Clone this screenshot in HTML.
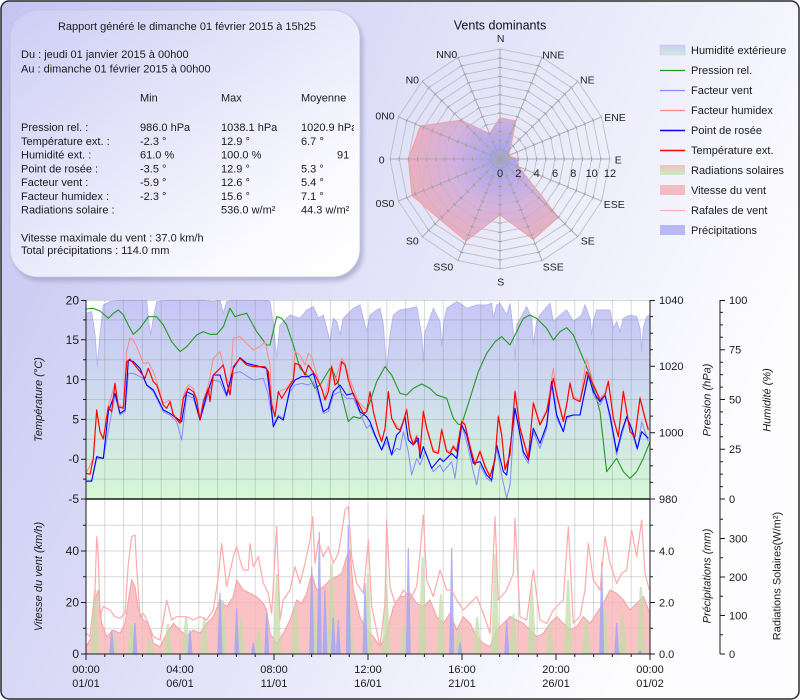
<!DOCTYPE html>
<html><head><meta charset="utf-8"><style>
html,body{margin:0;padding:0;width:800px;height:700px;overflow:hidden;background:#fff}
svg{display:block;font-family:"Liberation Sans",Arial,sans-serif}
</style></head><body>
<svg width="800" height="700" viewBox="0 0 800 700" xmlns="http://www.w3.org/2000/svg" xmlns:xlink="http://www.w3.org/1999/xlink">
<defs>
<linearGradient id="bg" x1="0" y1="0" x2="1" y2="0.4">
<stop offset="0" stop-color="#c4c4f2"/><stop offset="1" stop-color="#fdfdff"/>
</linearGradient>
<linearGradient id="box" x1="0" y1="0" x2="1" y2="1">
<stop offset="0" stop-color="#cdcdf5"/><stop offset="0.8" stop-color="#fbfbff"/><stop offset="1" stop-color="#ffffff"/>
</linearGradient>
<filter id="sh" x="-10%" y="-10%" width="130%" height="130%"><feGaussianBlur stdDeviation="2.5"/></filter>
<radialGradient id="rose" gradientUnits="userSpaceOnUse" cx="500" cy="159" r="105">
<stop offset="0" stop-color="#9494f4"/><stop offset="0.45" stop-color="#d2a8dc"/><stop offset="1" stop-color="#f6a2a8"/>
</radialGradient>
<linearGradient id="hum" x1="0" y1="0" x2="0" y2="1">
<stop offset="0" stop-color="#c6c6f6"/><stop offset="0.5" stop-color="#cfdcee"/><stop offset="1" stop-color="#d6f8d6"/>
</linearGradient>
<linearGradient id="lgh" x1="0" y1="0" x2="0" y2="1">
<stop offset="0" stop-color="#c8c8f4"/><stop offset="1" stop-color="#cfeedc"/>
</linearGradient>
<linearGradient id="lgr" x1="0" y1="0" x2="0" y2="1">
<stop offset="0" stop-color="#f4c0c0"/><stop offset="1" stop-color="#c8ecc0"/>
</linearGradient>
<polygon id="ring" fill="none" points="0,-110 42.1,-101.6 77.8,-77.8 101.6,-42.1 110,0 101.6,42.1 77.8,77.8 42.1,101.6 0,110 -42.1,101.6 -77.8,77.8 -101.6,42.1 -110,0 -101.6,-42.1 -77.8,-77.8 -42.1,-101.6"/>
<g id="sp">
<line x1="500" y1="159" x2="500" y2="49" stroke="#a8a8a8" stroke-width="1"/>
<line x1="500" y1="159" x2="500" y2="49" stroke="#a0a0a0" stroke-width="4" stroke-dasharray="1 8.167" stroke-dashoffset="0.5"/>
</g>
<clipPath id="c1"><rect x="86" y="300" width="564" height="199"/></clipPath>
<clipPath id="c2"><rect x="86" y="499" width="564" height="155"/></clipPath>
<clipPath id="cbox"><rect x="10" y="10" width="344" height="270"/></clipPath>
</defs>

<!-- background -->
<rect x="1" y="1" width="798" height="698" rx="8" ry="8" fill="url(#bg)" stroke="#2a2a2a" stroke-width="1.5"/>

<!-- info box -->
<rect x="13" y="14" width="350" height="267" rx="28" ry="28" fill="#8c8cb4" opacity="0.55" filter="url(#sh)"/>
<rect x="10" y="10" width="350" height="267" rx="28" ry="28" fill="url(#box)" stroke="#c4c4e0" stroke-width="0.8"/>
<g font-size="11" fill="#1a1a1a" clip-path="url(#cbox)">
<text x="187" y="30" text-anchor="middle">Rapport généré le dimanche 01 février 2015 à 15h25</text>
<text x="21" y="58">Du : jeudi 01 janvier 2015 à 00h00</text>
<text x="21" y="72.5">Au : dimanche 01 février 2015 à 00h00</text>
<text x="140" y="101.5">Min</text><text x="221" y="101.5">Max</text><text x="301" y="101.5">Moyenne</text>
<text x="21" y="131">Pression rel. :</text><text x="140" y="131">986.0 hPa</text><text x="221" y="131">1038.1 hPa</text><text x="301" y="131">1020.9 hPa</text>
<text x="21" y="144.75">Température ext. :</text><text x="140" y="144.75">-2.3 °</text><text x="221" y="144.75">12.9 °</text><text x="301" y="144.75">6.7 °</text>
<text x="21" y="158.5">Humidité ext. :</text><text x="140" y="158.5">61.0 %</text><text x="221" y="158.5">100.0 %</text><text x="337" y="158.5">91</text>
<text x="21" y="172.25">Point de rosée :</text><text x="140" y="172.25">-3.5 °</text><text x="221" y="172.25">12.9 °</text><text x="301" y="172.25">5.3 °</text>
<text x="21" y="186">Facteur vent :</text><text x="140" y="186">-5.9 °</text><text x="221" y="186">12.6 °</text><text x="301" y="186">5.4 °</text>
<text x="21" y="199.75">Facteur humidex :</text><text x="140" y="199.75">-2.3 °</text><text x="221" y="199.75">15.6 °</text><text x="301" y="199.75">7.1 °</text>
<text x="21" y="213.5">Radiations solaire :</text><text x="221" y="213.5">536.0 w/m²</text><text x="301" y="213.5">44.3 w/m²</text>
<text x="21" y="241.5">Vitesse maximale du vent : 37.0 km/h</text>
<text x="21" y="254">Total précipitations : 114.0 mm</text>
</g>

<!-- wind rose -->
<text x="500" y="29.5" text-anchor="middle" font-size="12.5" fill="#111">Vents dominants</text>
<polygon points="500,117.75 515.8,120.9 510.4,148.6 508.5,155.5 517.4,159 518.6,166.7 558.3,217.3 533.3,239.5 500,214.9 466,241.1 439.7,219.3 412,195.5 408.3,159 420.4,126 461.1,120.1 489.5,133.6" fill="url(#rose)" fill-opacity="0.85" stroke="#f4a0a0" stroke-width="1"/>
<g stroke="#bcbcbc" opacity="0.85">
<use xlink:href="#ring" transform="translate(500,159) scale(0.08333)" stroke-width="12"/>
<use xlink:href="#ring" transform="translate(500,159) scale(0.16667)" stroke-width="6"/>
<use xlink:href="#ring" transform="translate(500,159) scale(0.25)" stroke-width="4"/>
<use xlink:href="#ring" transform="translate(500,159) scale(0.33333)" stroke-width="3"/>
<use xlink:href="#ring" transform="translate(500,159) scale(0.41667)" stroke-width="2.4"/>
<use xlink:href="#ring" transform="translate(500,159) scale(0.5)" stroke-width="2"/>
<use xlink:href="#ring" transform="translate(500,159) scale(0.58333)" stroke-width="1.714"/>
<use xlink:href="#ring" transform="translate(500,159) scale(0.66667)" stroke-width="1.5"/>
<use xlink:href="#ring" transform="translate(500,159) scale(0.75)" stroke-width="1.333"/>
<use xlink:href="#ring" transform="translate(500,159) scale(0.83333)" stroke-width="1.2"/>
<use xlink:href="#ring" transform="translate(500,159) scale(0.91667)" stroke-width="1.091"/>
<use xlink:href="#ring" transform="translate(500,159)" stroke-width="1"/>
</g>
<g opacity="0.9">
<use xlink:href="#sp"/>
<use xlink:href="#sp" transform="rotate(22.5 500 159)"/>
<use xlink:href="#sp" transform="rotate(45 500 159)"/>
<use xlink:href="#sp" transform="rotate(67.5 500 159)"/>
<use xlink:href="#sp" transform="rotate(90 500 159)"/>
<use xlink:href="#sp" transform="rotate(112.5 500 159)"/>
<use xlink:href="#sp" transform="rotate(135 500 159)"/>
<use xlink:href="#sp" transform="rotate(157.5 500 159)"/>
<use xlink:href="#sp" transform="rotate(180 500 159)"/>
<use xlink:href="#sp" transform="rotate(202.5 500 159)"/>
<use xlink:href="#sp" transform="rotate(225 500 159)"/>
<use xlink:href="#sp" transform="rotate(247.5 500 159)"/>
<use xlink:href="#sp" transform="rotate(270 500 159)"/>
<use xlink:href="#sp" transform="rotate(292.5 500 159)"/>
<use xlink:href="#sp" transform="rotate(315 500 159)"/>
<use xlink:href="#sp" transform="rotate(337.5 500 159)"/>
</g>
<g font-size="11" fill="#222" text-anchor="middle">
<text x="500" y="177">0</text><text x="518.3" y="177">2</text><text x="536.7" y="177">4</text><text x="555" y="177">6</text><text x="573.3" y="177">8</text><text x="591.7" y="177">10</text><text x="610" y="177">12</text>
</g>
<g font-size="10.5" fill="#222" text-anchor="middle">
<text x="500.7" y="42">N</text>
<text x="553.3" y="58.7">NNE</text>
<text x="587.3" y="83.7">NE</text>
<text x="615" y="121">ENE</text>
<text x="618.3" y="163.7">E</text>
<text x="614.3" y="208">ESE</text>
<text x="587.7" y="244.7">SE</text>
<text x="553.3" y="270.4">SSE</text>
<text x="500.7" y="285.4">S</text>
<text x="443.3" y="270.4">SS0</text>
<text x="412.3" y="244.7">S0</text>
<text x="385" y="207">0S0</text>
<text x="381.7" y="163.7">0</text>
<text x="385" y="119.7">0N0</text>
<text x="412.3" y="83.7">N0</text>
<text x="446.7" y="58">NN0</text>
</g>

<!-- legend -->
<g font-size="11" fill="#1a1a1a">
<rect x="660" y="45" width="25" height="10" fill="url(#lgh)" stroke="#c8d0ee" stroke-width="0.6"/>
<text x="691" y="54">Humidité extérieure</text>
<line x1="660" y1="70.5" x2="685" y2="70.5" stroke="#1f9a1f" stroke-width="1.3"/>
<text x="691" y="74">Pression rel.</text>
<line x1="660" y1="90.5" x2="685" y2="90.5" stroke="#8888ff" stroke-width="1.2"/>
<text x="691" y="94">Facteur vent</text>
<line x1="660" y1="110.5" x2="685" y2="110.5" stroke="#ff8888" stroke-width="1.2"/>
<text x="691" y="114">Facteur humidex</text>
<line x1="660" y1="130.5" x2="685" y2="130.5" stroke="#0000ff" stroke-width="1.4"/>
<text x="691" y="134">Point de rosée</text>
<line x1="660" y1="150.5" x2="685" y2="150.5" stroke="#ff0000" stroke-width="1.4"/>
<text x="691" y="154">Température ext.</text>
<rect x="660" y="165" width="25" height="10" fill="url(#lgr)"/>
<text x="691" y="174">Radiations solaires</text>
<rect x="660" y="185" width="25" height="10" fill="#f4bcc0"/>
<text x="691" y="194">Vitesse du vent</text>
<line x1="660" y1="210.5" x2="685" y2="210.5" stroke="#ffb0b0" stroke-width="1.2"/>
<text x="691" y="214">Rafales de vent</text>
<rect x="660" y="225" width="25" height="10" fill="#b8b8f8"/>
<text x="691" y="234">Précipitations</text>
</g>

<!-- plot backgrounds -->
<rect x="86" y="300" width="564" height="354" fill="#ffffff"/>

<!-- upper chart series -->
<g clip-path="url(#c1)">
<g transform="translate(0,285) scale(0.333333)">
<polygon points="258,642 258,85 275,80 285,150 292,245 300,150 310,60 330,50 370,45 440,45 445,100 452,150 460,100 470,50 520,45 600,45 640,50 660,45 670,85 680,50 700,45 800,45 810,50 820,120 830,220 840,120 870,90 900,100 920,75 940,65 955,100 970,90 990,170 1000,100 1010,110 1020,150 1030,100 1060,70 1080,60 1090,100 1100,140 1110,90 1130,75 1140,70 1150,120 1160,260 1170,150 1180,90 1200,75 1230,70 1250,65 1265,150 1270,230 1275,140 1280,130 1300,70 1320,110 1325,185 1332,110 1340,70 1370,50 1380,55 1400,70 1430,60 1460,60 1475,55 1480,100 1490,60 1500,55 1520,90 1530,55 1540,140 1545,230 1550,120 1580,65 1595,100 1600,180 1610,110 1620,90 1650,55 1660,110 1680,90 1700,75 1720,110 1745,90 1755,60 1770,100 1775,150 1780,110 1790,75 1830,75 1840,130 1850,110 1860,140 1870,100 1890,90 1910,95 1920,130 1925,200 1930,130 1940,95 1950,90 1950,642" fill="url(#hum)" stroke="#b8b8f0" stroke-width="1" vector-effect="non-scaling-stroke"/>
</g>
</g>

<!-- grid -->
<g stroke="#808080" stroke-opacity="0.3" stroke-width="1" fill="none">
<path d="M104.8 300V654M123.6 300V654M142.4 300V654M161.2 300V654M180 300V654M198.8 300V654M217.6 300V654M236.4 300V654M255.2 300V654M274 300V654M292.8 300V654M311.6 300V654M330.4 300V654M349.2 300V654M368 300V654M386.8 300V654M405.6 300V654M424.4 300V654M443.2 300V654M462 300V654M480.8 300V654M499.6 300V654M518.4 300V654M537.2 300V654M556 300V654M574.8 300V654M593.6 300V654M612.4 300V654M631.2 300V654"/>
<path d="M86 300.5H650M86 319.9H650M86 339.8H650M86 359.7H650M86 379.6H650M86 399.5H650M86 419.4H650M86 439.3H650M86 459.2H650M86 479.1H650M86 525.3H650M86 551H650M86 576.8H650M86 602.5H650M86 628.3H650"/>
</g>

<g clip-path="url(#c1)" fill="none" stroke-linejoin="round">
<g transform="translate(0,285) scale(0.333333)">
<polyline vector-effect="non-scaling-stroke" stroke="#1f9a1f" stroke-width="1.1" points="258,72 280,70 300,78 325,100 340,85 355,75 370,90 390,130 400,148 420,130 445,95 470,95 490,120 515,170 540,200 560,185 590,150 610,140 630,148 650,148 670,125 690,70 705,95 720,90 740,85 770,140 800,180 810,180 830,95 845,100 860,120 880,180 900,250 930,280 945,310 960,300 990,250 1000,260 1020,310 1045,410 1060,395 1080,400 1100,380 1130,290 1155,245 1175,270 1200,325 1220,330 1240,310 1265,297 1290,310 1310,330 1340,340 1360,400 1375,418 1385,418 1410,340 1435,260 1460,205 1485,170 1505,155 1530,180 1550,140 1570,100 1590,90 1610,100 1640,130 1660,165 1680,140 1700,128 1720,150 1745,210 1770,270 1800,380 1820,560 1850,520 1870,560 1890,580 1910,560 1930,520 1950,470"/>
<polyline vector-effect="non-scaling-stroke" stroke="#8888ff" stroke-width="1" points="258,590 275,590 290,520 310,520 330,410 345,330 360,390 375,380 385,265 400,265 430,280 440,300 460,320 490,380 510,390 530,410 545,465 560,330 580,340 600,405 620,340 640,285 660,290 680,335 700,265 720,260 760,285 790,280 805,330 820,420 835,390 850,400 870,320 885,300 905,295 925,300 940,290 955,330 970,385 985,380 1000,330 1020,320 1040,340 1060,340 1080,385 1100,430 1110,420 1125,455 1145,495 1160,470 1175,510 1190,490 1200,495 1210,440 1225,500 1235,570 1250,520 1260,540 1275,500 1300,560 1320,540 1330,560 1355,530 1365,580 1385,420 1400,470 1420,560 1430,600 1440,540 1460,580 1475,590 1490,490 1505,570 1520,640 1530,600 1545,370 1570,510 1585,535 1600,440 1620,490 1640,430 1655,300 1670,400 1690,440 1700,400 1720,390 1740,390 1765,260 1780,330 1800,360 1815,330 1830,400 1850,510 1865,450 1880,400 1895,440 1912,495 1925,410 1945,470"/>
<polyline vector-effect="non-scaling-stroke" stroke="#ff8888" stroke-width="1" points="258,565 280,520 290,375 300,440 310,460 325,365 345,295 355,360 370,365 380,200 390,158 400,165 410,185 420,210 430,235 445,232 460,260 470,290 490,355 510,345 520,385 540,410 550,330 565,300 580,310 590,340 600,405 610,345 625,300 640,220 660,200 680,280 690,300 700,160 720,155 740,175 760,195 780,185 795,170 810,240 815,350 825,390 835,320 860,310 880,280 885,200 900,210 915,240 925,205 935,215 945,250 960,300 975,340 995,240 1005,290 1025,220 1035,235 1045,270 1075,350 1100,375 1110,320 1120,380 1135,440 1145,470 1155,430 1165,320 1175,400 1200,435 1210,405 1220,370 1230,445 1240,475 1250,450 1260,500 1270,375 1280,425 1300,495 1315,500 1325,430 1340,495 1350,500 1360,480 1370,495 1385,405 1395,415 1410,480 1425,535 1440,495 1455,540 1470,572 1485,520 1495,390 1505,445 1515,550 1530,505 1545,315 1560,425 1585,515 1600,350 1620,415 1640,375 1660,250 1670,320 1690,405 1700,355 1710,290 1720,335 1740,345 1760,220 1780,295 1800,340 1815,325 1825,285 1840,395 1855,450 1870,315 1890,435 1905,450 1920,335 1935,395 1945,430"/>
<polyline vector-effect="non-scaling-stroke" stroke="#0000ff" stroke-width="1.1" points="258,588 275,588 290,515 310,520 325,380 345,325 360,385 375,375 385,225 400,230 420,250 440,300 460,315 490,375 510,385 530,400 545,410 560,320 580,330 600,405 620,330 640,270 660,270 680,330 700,250 720,218 740,235 780,245 800,250 810,330 820,425 835,395 850,405 870,310 885,285 905,275 925,275 940,265 955,320 970,380 985,370 1000,320 1020,300 1040,330 1060,325 1080,380 1100,395 1110,410 1125,450 1145,495 1160,455 1175,510 1190,450 1200,440 1215,395 1225,465 1240,480 1255,460 1260,520 1270,485 1295,550 1320,520 1330,530 1355,505 1370,520 1385,420 1400,450 1420,535 1440,530 1460,570 1475,585 1490,480 1510,560 1520,570 1545,370 1570,500 1585,525 1600,430 1620,475 1640,420 1655,290 1670,390 1690,440 1700,395 1720,390 1740,390 1765,270 1780,320 1800,350 1815,330 1830,390 1850,500 1865,440 1880,395 1895,430 1912,490 1925,440 1945,460"/>
<polyline vector-effect="non-scaling-stroke" stroke="#ff0000" stroke-width="1.15" points="258,565 270,568 280,520 290,375 300,440 310,462 325,365 335,380 345,295 355,365 370,370 380,230 390,222 400,235 420,260 435,280 445,250 460,290 470,300 490,360 500,370 510,350 520,390 540,415 550,340 565,310 580,320 590,345 600,405 610,350 625,310 630,350 640,270 650,260 670,240 680,290 690,330 700,245 720,220 740,240 760,245 780,245 795,245 805,260 815,360 825,395 835,320 845,340 860,315 880,285 885,235 900,240 915,270 925,240 935,255 945,270 955,290 965,310 975,345 985,320 995,245 1005,300 1015,290 1025,230 1035,240 1045,285 1060,330 1075,355 1090,385 1100,380 1110,320 1120,380 1135,440 1145,470 1155,430 1165,320 1175,400 1190,430 1200,435 1210,410 1220,375 1230,450 1240,480 1250,455 1260,505 1270,380 1280,430 1300,500 1315,505 1325,435 1340,500 1350,505 1360,485 1370,500 1385,410 1395,420 1410,485 1425,540 1440,500 1455,545 1470,575 1485,525 1495,395 1505,450 1515,555 1530,510 1545,320 1560,430 1585,520 1600,355 1620,420 1640,380 1660,280 1670,330 1690,410 1700,360 1710,295 1720,340 1740,350 1760,260 1780,300 1800,345 1815,330 1825,290 1840,400 1855,455 1870,320 1890,440 1905,455 1920,340 1935,400 1945,435"/>
</g>
</g>

<!-- lower chart series -->
<g clip-path="url(#c2)">
<g transform="translate(0,490) scale(0.333333)">
<polygon vector-effect="non-scaling-stroke" fill="#f8b6b8" fill-opacity="0.82" stroke="#f4a0a2" stroke-width="1" points="258,492 258,470 275,440 285,330 295,300 305,400 320,440 340,420 360,430 375,400 385,330 395,270 405,290 415,360 430,390 445,400 460,460 480,470 500,430 520,400 540,420 560,440 580,420 600,430 620,400 640,380 660,330 680,350 700,320 710,270 730,300 750,310 770,320 790,340 800,360 810,430 830,460 850,430 870,390 890,330 905,340 920,310 935,250 950,300 970,290 990,270 1010,260 1025,250 1040,200 1050,180 1060,300 1080,380 1100,420 1120,440 1140,470 1160,430 1180,350 1200,320 1210,320 1230,310 1250,340 1270,350 1290,330 1310,380 1330,400 1350,370 1370,420 1390,380 1410,400 1430,440 1450,460 1470,470 1490,420 1510,400 1530,380 1550,390 1570,400 1590,420 1610,440 1630,430 1650,400 1670,380 1690,400 1710,420 1730,410 1750,380 1770,400 1790,370 1810,340 1830,300 1850,310 1870,330 1890,360 1910,340 1930,320 1950,370 1950,492"/>
</g>
<path fill="#c4dca8" fill-opacity="0.75" d="M90.6 654L94.1 590L96.1 590L99.6 654ZM108.8 654L112.3 634L114.3 634L117.8 654ZM127 654L130.5 624L132.5 624L136 654ZM145.2 654L148.7 639L150.7 639L154.2 654ZM163.4 654L166.9 624L168.9 624L172.4 654ZM181.6 654L185.1 617L187.1 617L190.6 654ZM199.8 654L203.3 617L205.3 617L208.8 654ZM218 654L221.5 600L223.5 600L227 654ZM236.1 654L239.6 619L241.6 619L245.1 654ZM254.3 654L257.8 629L259.8 629L263.3 654ZM272.5 654L276 574L278 574L281.5 654ZM290.7 654L294.2 604L296.2 604L299.7 654ZM308.9 654L312.4 594L314.4 594L317.9 654ZM327.1 654L330.6 564L332.6 564L336.1 654ZM345.3 654L348.8 614L350.8 614L354.3 654ZM363.5 654L367 574L369 574L372.5 654ZM381.7 654L385.2 584L387.2 584L390.7 654ZM399.9 654L403.4 624L405.4 624L408.9 654ZM418.1 654L421.6 557L423.6 557L427.1 654ZM436.3 654L439.8 594L441.8 594L445.3 654ZM454.5 654L458 629L460 629L463.5 654ZM472.7 654L476.2 617L478.2 617L481.7 654ZM490.8 654L494.3 554L496.3 554L499.8 654ZM509 654L512.5 614L514.5 614L518 654ZM527.2 654L530.7 584L532.7 584L536.2 654ZM545.4 654L548.9 624L550.9 624L554.4 654ZM563.6 654L567.1 580L569.1 580L572.6 654ZM581.8 654L585.3 619L587.3 619L590.8 654ZM600 654L603.5 609L605.5 609L609 654ZM618.2 654L621.7 614L623.7 614L627.2 654ZM636.4 654L639.9 587L641.9 587L645.4 654Z"/>
<path fill="#a4a4f4" fill-opacity="0.85" d="M109.2 654L111.1 630L112.3 630L114.2 654ZM132.5 654L134.4 623L135.6 623L137.5 654ZM187.5 654L189.4 630L190.6 630L192.5 654ZM217.5 654L219.4 593L220.6 593L222.5 654ZM234.2 654L236.1 608L237.3 608L239.2 654ZM250.8 654L252.7 643L253.9 643L255.8 654ZM264.2 654L266.1 613L267.3 613L269.2 654ZM309.2 654L311.1 567L312.3 567L314.2 654ZM316.8 654L318.7 532L319.9 532L321.8 654ZM322.5 654L324.4 590L325.6 590L327.5 654ZM330.8 654L332.7 617L333.9 617L335.8 654ZM335.8 654L337.7 620L338.9 620L340.8 654ZM345.8 654L347.7 525L348.9 525L350.8 654ZM362.5 654L364.4 583L365.6 583L367.5 654ZM405.8 654L407.7 548L408.9 548L410.8 654ZM449.2 654L451.1 548L452.3 548L454.2 654ZM457.5 654L459.4 643L460.6 643L462.5 654ZM504.2 654L506.1 620L507.3 620L509.2 654ZM599.2 654L601.1 562L602.3 562L604.2 654ZM614.2 654L616.1 623L617.3 623L619.2 654ZM637.5 654L639.4 650L640.6 650L642.5 654Z"/>
<g transform="translate(0,490) scale(0.333333)">
<polyline vector-effect="non-scaling-stroke" fill="none" stroke="#ffaaaa" stroke-width="1.2" stroke-linejoin="round" points="258,430 270,440 285,300 290,140 295,200 300,380 310,350 330,360 345,380 360,385 375,370 385,220 395,140 405,135 410,230 420,380 430,370 440,390 460,440 480,450 500,330 515,390 530,380 545,380 560,380 580,390 600,380 620,390 640,360 655,260 665,160 680,290 700,200 710,170 720,210 730,240 745,240 750,160 760,230 775,200 790,280 805,310 815,370 830,110 840,390 850,330 870,300 885,230 900,280 915,220 930,150 938,80 945,220 955,150 970,200 985,170 1000,220 1015,190 1025,130 1035,60 1045,50 1055,200 1070,280 1090,310 1105,150 1115,350 1140,470 1155,340 1160,90 1170,290 1185,340 1200,320 1210,300 1230,330 1250,290 1260,190 1270,75 1280,270 1300,320 1320,240 1340,300 1355,300 1370,330 1390,360 1410,340 1430,320 1450,370 1470,430 1485,80 1495,330 1520,300 1540,250 1545,85 1560,380 1580,390 1600,240 1620,390 1640,400 1660,360 1690,330 1705,110 1720,400 1740,380 1755,300 1765,160 1780,270 1800,300 1815,140 1830,220 1850,280 1865,250 1880,240 1895,120 1910,200 1925,90 1935,250 1948,300"/>
</g>
</g>

<!-- axes -->
<g stroke="#1a1a1a" stroke-width="1" fill="none">
<path d="M86 300V654M650 300V654M720 300V654M86 654H650"/>
<path d="M86 499H650" stroke-width="1.6"/>
<path d="M81 300.5H86M81 339.8H86M81 379.6H86M81 419.4H86M81 459.2H86M81 499H86M83 319.9H86M83 359.7H86M83 399.5H86M83 439.3H86M83 479.1H86M81 551H86M81 602.5H86M81 654H86M83 525.3H86M83 576.8H86M83 628.3H86"/>
<path d="M650 300.5H655M650 366.3H655M650 432.7H655M650 499H655M650 316.6H653M650 333.2H653M650 349.7H653M650 382.9H653M650 399.5H653M650 416.1H653M650 449.3H653M650 465.9H653M650 482.4H653M650 551H655M650 602.5H655M650 654H655M650 525.3H653M650 576.8H653M650 628.3H653"/>
<path d="M720 300.5H725M720 349.75H725M720 399.5H725M720 449.25H725M720 499H725M720 312.4H723M720 324.9H723M720 337.3H723M720 362.2H723M720 374.6H723M720 387.1H723M720 411.9H723M720 424.4H723M720 436.8H723M720 461.7H723M720 474.1H723M720 486.6H723M720 538.5H725M720 577H725M720 615.5H725M720 654H725M720 519.25H723M720 557.75H723M720 596.25H723M720 634.75H723"/>
<path d="M86 654V660M180 654V660M274 654V660M368 654V660M462 654V660M556 654V660M650 654V660M104.8 654V657M123.6 654V657M142.4 654V657M161.2 654V657M198.8 654V657M217.6 654V657M236.4 654V657M255.2 654V657M292.8 654V657M311.6 654V657M330.4 654V657M349.2 654V657M386.8 654V657M405.6 654V657M424.4 654V657M443.2 654V657M480.8 654V657M499.6 654V657M518.4 654V657M537.2 654V657M574.8 654V657M593.6 654V657M612.4 654V657M631.2 654V657"/>
</g>

<!-- tick labels -->
<g font-size="12" fill="#1a1a1a" text-anchor="end">
<text x="79" y="304.5">20</text><text x="79" y="344">15</text><text x="79" y="384">10</text><text x="79" y="423.5">5</text><text x="79" y="463">-0</text><text x="79" y="503">-5</text>
<text x="79" y="658">0</text><text x="79" y="606.5">20</text><text x="79" y="555">40</text>
</g>
<g font-size="11" fill="#1a1a1a">
<text x="659" y="304">1040</text><text x="659" y="370">1020</text><text x="659" y="436.5">1000</text><text x="659" y="503">980</text>
<text x="659" y="658">0.0</text><text x="659" y="606.5">2.0</text><text x="659" y="555">4.0</text>
<text x="729" y="304">100</text><text x="729" y="353.5">75</text><text x="729" y="403.5">50</text><text x="729" y="453">25</text><text x="729" y="503">0</text>
<text x="729" y="658">0</text><text x="729" y="619.5">100</text><text x="729" y="581">200</text><text x="729" y="542.5">300</text>
</g>
<g font-size="11" fill="#1a1a1a" text-anchor="middle">
<text x="86" y="673">00:00</text><text x="86" y="687">01/01</text>
<text x="180" y="673">04:00</text><text x="180" y="687">06/01</text>
<text x="274" y="673">08:00</text><text x="274" y="687">11/01</text>
<text x="368" y="673">12:00</text><text x="368" y="687">16/01</text>
<text x="462" y="673">16:00</text><text x="462" y="687">21/01</text>
<text x="556" y="673">20:00</text><text x="556" y="687">26/01</text>
<text x="650" y="673">00:00</text><text x="650" y="687">01/02</text>
</g>

<!-- axis titles -->
<g font-size="11" fill="#1a1a1a" text-anchor="middle" font-style="italic">
<text transform="translate(42,399.5) rotate(-90)">Température (°C)</text>
<text transform="translate(42,576.5) rotate(-90)">Vitesse du vent (km/h)</text>
<text transform="translate(710.5,400) rotate(-90)">Pression (hPa)</text>
<text transform="translate(770.5,400) rotate(-90)">Humidité (%)</text>
<text transform="translate(710.5,576) rotate(-90)">Précipitations (mm)</text>
</g>
<text transform="translate(780.5,576) rotate(-90)" font-size="11" fill="#1a1a1a" text-anchor="middle">Radiations Solaires(W/m²)</text>
</svg>
</body></html>
